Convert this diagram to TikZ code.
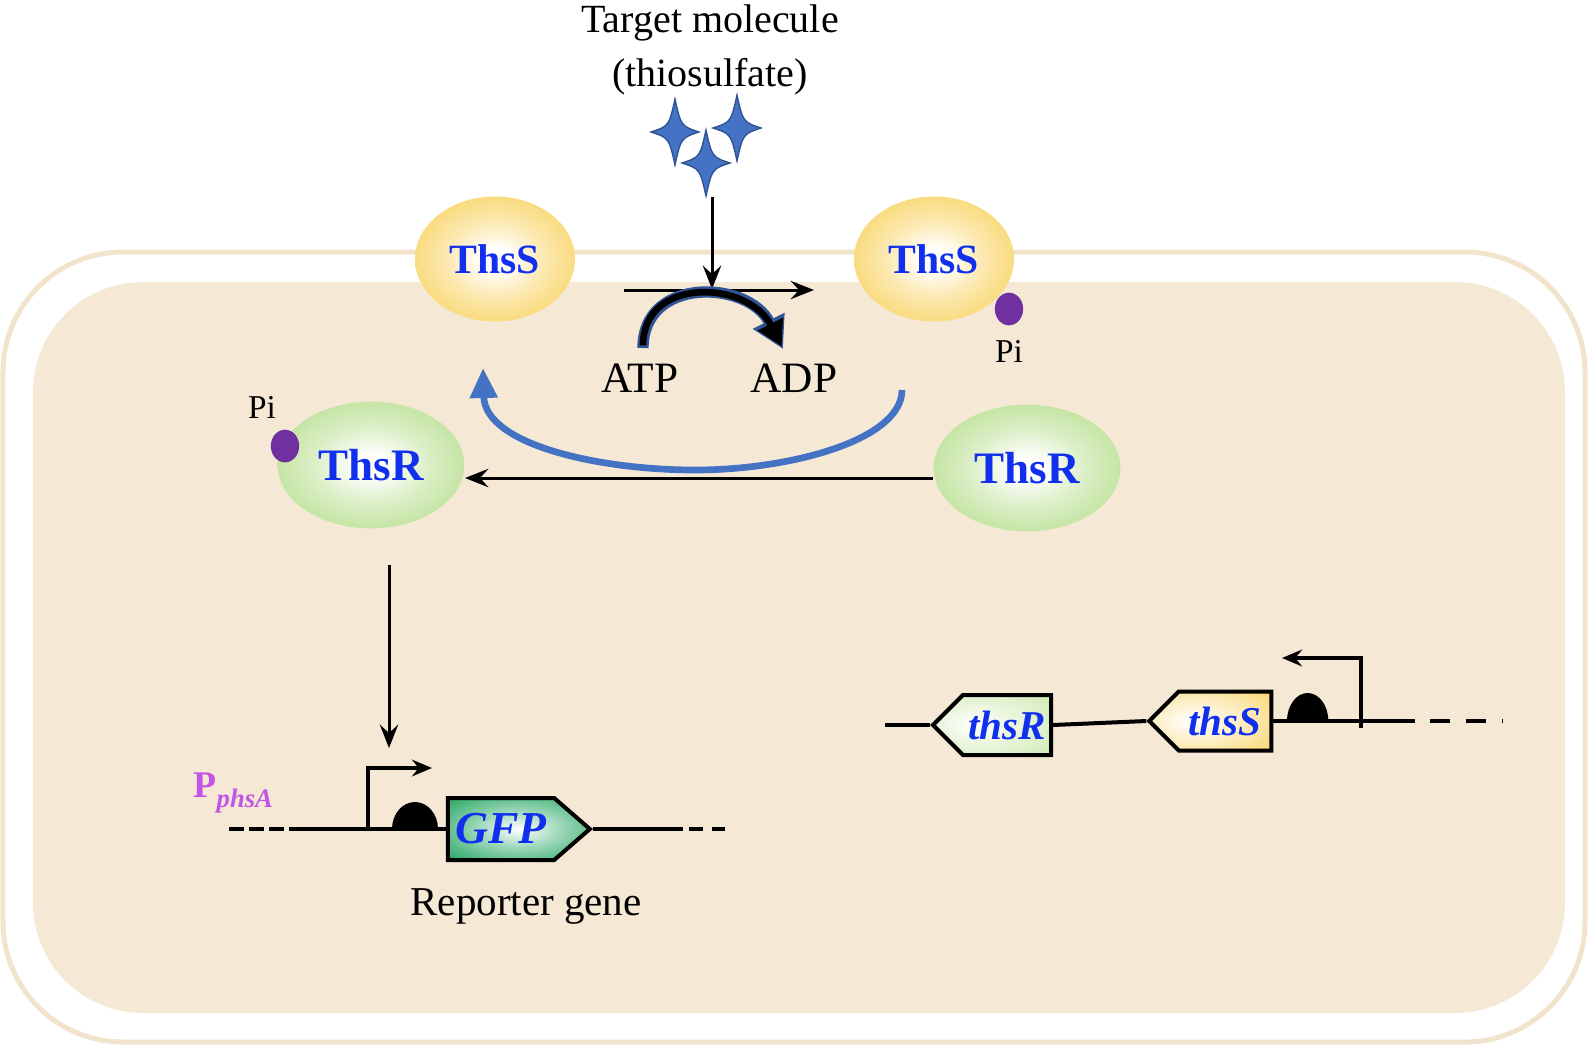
\documentclass[tikz,border=0pt]{standalone}
\usepackage{fontspec}
\setmainfont{Liberation Serif}
\usetikzlibrary{shapes.geometric, shapes.symbols, positioning, arrows.meta}

\definecolor{cellfill}{HTML}{F5E8D5}
\definecolor{cellline}{HTML}{F2E3CD}
\definecolor{protblue}{HTML}{1030EE}
\definecolor{sensyellow}{HTML}{F8CF55}
\definecolor{regugreen}{HTML}{B2DC86}
\definecolor{gfpgreen}{HTML}{16A058}
\definecolor{pipurple}{HTML}{7030A0}
\definecolor{starblue}{HTML}{4472C4}
\definecolor{stardark}{HTML}{2F528F}
\definecolor{atpedge}{HTML}{2F5597}
\definecolor{promoter}{HTML}{C255E6}

\pgfdeclareradialshading{sensorshade}{\pgfpoint{0bp}{0bp}}{color(0bp)=(white); color(4bp)=(white); color(15bp)=(sensyellow!45); color(30bp)=(sensyellow!90); color(50bp)=(sensyellow); color(75bp)=(sensyellow)}
\pgfdeclareradialshading{regshade}{\pgfpoint{0bp}{0bp}}{color(0bp)=(white); color(4bp)=(white); color(15bp)=(regugreen!45); color(30bp)=(regugreen!90); color(50bp)=(regugreen); color(75bp)=(regugreen)}
\pgfdeclareradialshading{gfpshade}{\pgfpoint{0bp}{0bp}}{color(0bp)=(white); color(14bp)=(gfpgreen!40); color(34bp)=(gfpgreen!90); color(50bp)=(gfpgreen); color(75bp)=(gfpgreen)}
\pgfdeclareradialshading{thsrshade}{\pgfpoint{-8bp}{0bp}}{color(0bp)=(white); color(18bp)=(regugreen!30); color(45bp)=(regugreen!70); color(75bp)=(regugreen!70)}
\pgfdeclareradialshading{thssshade}{\pgfpoint{-8bp}{0bp}}{color(0bp)=(white); color(18bp)=(sensyellow!35); color(45bp)=(sensyellow); color(75bp)=(sensyellow)}

\begin{document}
\begin{tikzpicture}[x=0.3pt, y=-0.3pt, node distance=20pt, on grid,
    sensor/.style={ellipse, shading=sensorshade, minimum width=48pt, minimum height=37.5pt,
      text=protblue, font=\fontsize{12.5}{15}\selectfont\bfseries},
    regulator/.style={ellipse, shading=regshade, minimum width=56pt, minimum height=38pt,
      text=protblue, font=\fontsize{13.5}{16}\selectfont\bfseries},
    phos/.style={ellipse, fill=pipurple, inner sep=0pt, minimum width=8.5pt, minimum height=9.8pt},
    smalltxt/.style={font=\fontsize{10}{12}\selectfont},
    bigtxt/.style={font=\fontsize{13}{15}\selectfont},
    gene/.style={signal, signal from=nowhere, draw, line width=1.2pt, inner sep=0pt,
      text=protblue, font=\fontsize{12.3}{14}\selectfont\bfseries\itshape},
    dna/.style={line width=1.2pt},
    sig/.style={line width=0.9pt, -{Stealth[length=7pt,width=5.5pt,inset=2.5pt]}},
    tss/.style={line width=1.1pt, -{Stealth[length=6pt,width=5pt,inset=2pt]}},
    recycle/.style={draw=starblue, line width=2pt, -{Triangle[length=9pt,width=8pt]}},
    thio/.style={fill=starblue, draw=stardark, line width=0.4pt}]

    \useasboundingbox (0,0) rectangle (1595,1049);

    % cell
    \draw[cellline, line width=1.5pt, rounded corners=36pt] (3,252) rectangle (1585,1042);
    \fill[cellfill, rounded corners=33pt] (33,282) rectangle (1565,1013);

    % signal
    \node[align=center, font=\fontsize{12}{16}\selectfont] (target) at (710,50) {Target molecule\\(thiosulfate)};
    \coordinate (star_a) at (675,132);
    \coordinate (star_b) at (737,128);
    \coordinate (star_c) at (706,163);
    \foreach \s in {star_a,star_b,star_c}
        \filldraw[thio, shift={(\s)}] (0,-33) .. controls (6,-6) .. (24,0) .. controls (6,6) .. (0,33)
            .. controls (-6,6) .. (-24,0) .. controls (-6,-6) .. (0,-33) -- cycle;

    % proteins
    \node[sensor] (thss_l) at (495,259) {ThsS};
    \node[sensor] (thss_r) at (934,259) {ThsS};
    \node[phos] (pi_r) at (1009,309) {};
    \node[smalltxt] (pi_r_lbl) [below=12.6pt of pi_r] {Pi};
    \node[regulator] (thsr_l) at (371,465) {ThsR};
    \node[regulator] (thsr_r) at (1027,468) {ThsR};
    \node[phos] (pi_l) at (285,446) {};
    \node[smalltxt] (pi_l_lbl) [above left=11.7pt and 6.9pt of pi_l] {Pi};

    % autophosphorylation
    \coordinate (sig_top) at (712,197);
    \coordinate (rxn_in) at (712,289);
    \coordinate (rxn_l) at (624,290);
    \coordinate (rxn_r) at (814,290);
    \draw[sig] (rxn_l) -- (rxn_r);
    \draw[sig] (sig_top) -- (rxn_in);

    \node[bigtxt, anchor=base] (atp) at (640,392) {ATP};
    \node[bigtxt, anchor=base] (adp) at (794,392) {ADP};
    \coordinate (atp_leg) at (643,348);
    \coordinate (adp_tip) at (783,349);
    \draw[atpedge, line width=3.4pt, -{Triangle[length=9.5pt,width=10pt]}]
        (atp_leg) .. controls (643,276) and (748,280) .. (adp_tip);
    \draw[black, line width=2pt, shorten >=0.9pt, -{Triangle[length=7.5pt,width=8pt]}]
        ([yshift=0.8pt]atp_leg) .. controls (643,276) and (748,280) .. (adp_tip);

    % phosphotransfer
    \coordinate (recyc_s) at (902,390);
    \coordinate (recyc_e) at (483,368);
    \draw[recycle] (recyc_s) .. controls (902,440) and (790,470) .. (695,470)
        .. controls (600,470) and (485,445) .. (recyc_e);
    \draw[sig] ([yshift=-3pt]thsr_r.west) -- ([yshift=-3pt]thsr_r.west -| thsr_l.east);

    \coordinate (act_s) at (389,565);
    \coordinate (act_e) at (389,748);
    \draw[sig] (act_s) -- (act_e);

    % reporter
    \node[gene, signal to=east, shading=gfpshade, minimum width=42.6pt, minimum height=18.6pt,
        signal pointer angle=82, font=\fontsize{13.7}{16}\selectfont\bfseries\itshape] (gfp) at (501,829) {GFP};
    \coordinate (gfp_far_l) at (229,829);
    \coordinate (gfp_up) at (292,829);
    \coordinate (gfp_dn) at (683,829);
    \coordinate (gfp_dash) at (689,829);
    \coordinate (gfp_far_r) at (725,829);
    \draw[dna, dash pattern=on 4.5pt off 1.5pt] (gfp_far_l) -- (gfp_up);
    \draw[dna] (gfp_up) -- (gfp.west);
    \draw[dna] (gfp.east) -- (gfp_dn);
    \draw[dna, dash pattern=on 4.2pt off 2.7pt] (gfp_dash) -- (gfp_far_r);
    \coordinate (tss_gfp) at (368,829);
    \draw[tss] (tss_gfp) -- ++(0,-61) -- ++(64,0);
    \coordinate (rbs_gfp) at (392,829);
    \fill (rbs_gfp) arc[start angle=180, end angle=0, x radius=6.9pt, y radius=8.1pt] -- cycle;
    \node[anchor=base west, text=promoter, inner sep=0pt, font=\fontsize{11.3}{13}\selectfont\bfseries]
        (p_phsa) at (193,797) {P\raisebox{-3pt}{\fontsize{8}{10}\selectfont\itshape phsA}};
    \node[anchor=base, font=\fontsize{12.3}{14}\selectfont] (reporter) at (526,915) {Reporter gene};

    % thsRS operon
    \node[gene, signal to=west, shading=thsrshade, minimum width=35.4pt, minimum height=18pt] (thsr_g) at (1007,725) {thsR};
    \node[gene, signal to=west, shading=thssshade, minimum width=36.6pt, minimum height=17.7pt] (thss_g) at (1225,721) {thsS};
    \coordinate (ops_l) at (885,725);
    \coordinate (ops_r) at (1415,721);
    \coordinate (ops_dash) at (1430,721);
    \coordinate (ops_far) at (1503,721);
    \draw[dna] (ops_l) -- (thsr_g.west);
    \draw[dna] (thsr_g.east) -- (thss_g.west);
    \draw[dna] (thss_g.east) -- (ops_r);
    \draw[dna, dash pattern=on 6pt off 4.8pt] (ops_dash) -- (ops_far);
    \coordinate (tss_ths) at (1361,728);
    \draw[tss] (tss_ths) -- ++(0,-70) -- ++(-79,0);
    \coordinate (rbs_ths) at (1287,721);
    \fill (rbs_ths) arc[start angle=180, end angle=0, x radius=6.2pt, y radius=8.4pt] -- cycle;

\end{tikzpicture}
\end{document}
